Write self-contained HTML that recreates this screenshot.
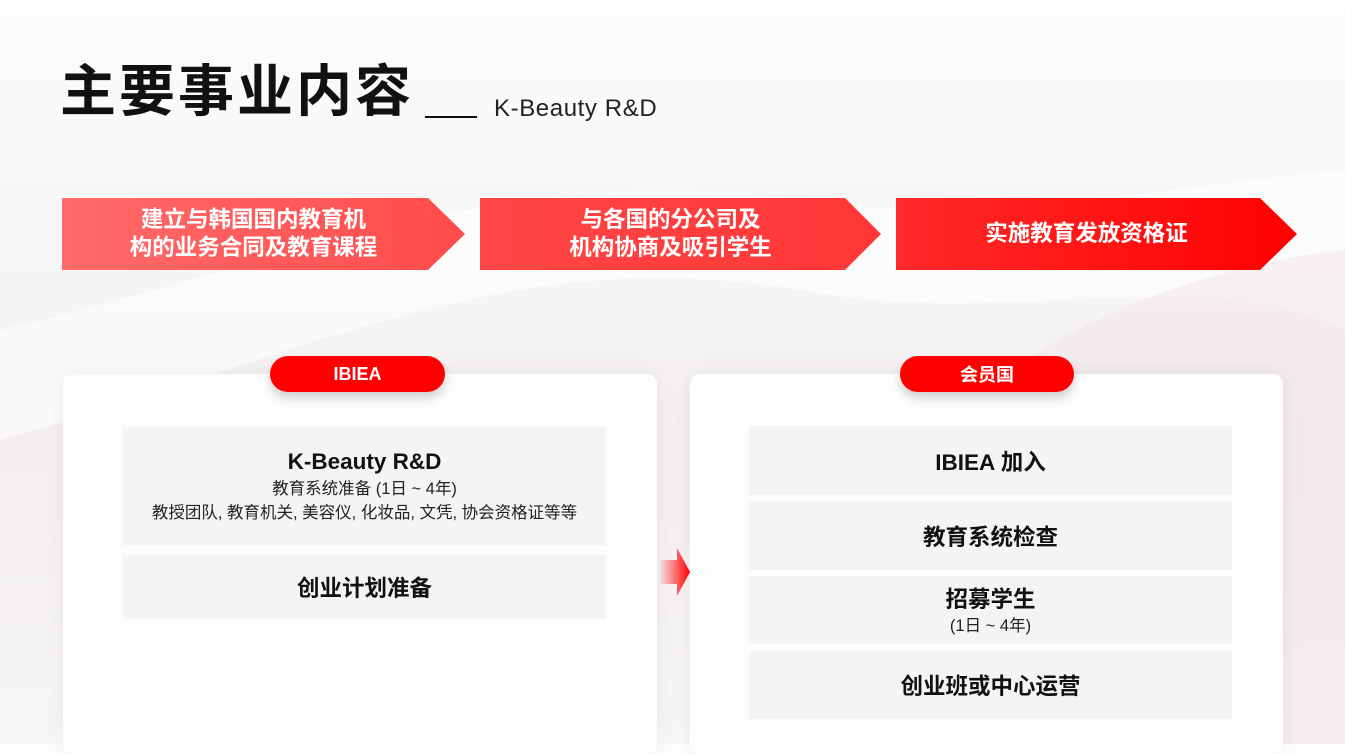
<!DOCTYPE html>
<html><head><meta charset="utf-8"><style>
*{margin:0;padding:0;box-sizing:border-box}
body{width:1345px;height:744px;overflow:hidden;position:relative;font-family:"Liberation Sans","Noto Sans CJK SC",sans-serif;background:linear-gradient(180deg,#fdfdfd 0%,#f6f4f5 40%,#f3eef0 60%,#f8f6f7 100%)}
.abs{position:absolute}
.title{left:60px;top:47px;font-size:56px;font-weight:bold;color:#111;letter-spacing:3px;white-space:nowrap}
.line{left:425px;top:116px;width:52px;height:2px;background:#111}
.sub{left:494px;top:95px;font-size:24px;color:#222;letter-spacing:0.6px;white-space:nowrap}
.arr{top:198px;height:72px;color:#fff;font-weight:bold;font-size:22.5px;line-height:28px;display:flex;align-items:center;justify-content:center;text-align:center;white-space:nowrap}
.card{background:#fdfdfd;border-radius:10px;box-shadow:0 0 20px rgba(0,0,0,0.06)}
.pill{height:36px;border-radius:18px;background:#ff0000;color:#fff;font-weight:bold;font-size:18px;display:flex;align-items:center;justify-content:center;box-shadow:0 6px 10px rgba(0,0,0,0.18)}
.box{background:#f4f4f4;display:flex;flex-direction:column;align-items:center;justify-content:center;color:#111;text-align:center;white-space:nowrap}
.big{font-size:22.5px;font-weight:bold}
.sm{font-size:16.5px;color:#222;line-height:24px}
</style></head><body>
<svg class="abs" style="left:0;top:0" width="1345" height="744">
<path d="M0 330 C300 260 500 160 800 200 C1000 230 1200 180 1345 170 L1345 330 C1200 260 1000 330 800 290 C500 240 300 360 0 440Z" fill="#ffffff" opacity="0.6"/>
<path d="M1000 380 C1100 300 1250 260 1345 250 L1345 744 L1000 744Z" fill="#f2e3e7" opacity="0.5"/>
</svg>
<div class="abs title">主要事业内容</div>
<div class="abs line"></div>
<div class="abs sub">K-Beauty R&amp;D</div>

<div class="abs arr" style="left:62px;width:403px;background:linear-gradient(90deg,#ff6a6a,#ff4c4c);clip-path:polygon(0 0,366px 0,100% 50%,366px 100%,0 100%)"><span style="margin-right:20px">建立与韩国国内教育机<br>构的业务合同及教育课程</span></div>
<div class="abs arr" style="left:480px;width:401px;background:linear-gradient(90deg,#ff4646,#ff3636);clip-path:polygon(0 0,365px 0,100% 50%,365px 100%,0 100%)"><span style="margin-right:20px">与各国的分公司及<br>机构协商及吸引学生</span></div>
<div class="abs arr" style="left:896px;width:401px;background:linear-gradient(90deg,#ff2a2a,#ff0000);clip-path:polygon(0 0,364px 0,100% 50%,364px 100%,0 100%)"><span style="margin-right:20px">实施教育发放资格证</span></div>

<div class="abs card" style="left:63px;top:374px;width:594px;height:380px"></div>
<div class="abs card" style="left:690px;top:374px;width:593px;height:380px"></div>
<div class="abs pill" style="left:270px;top:356px;width:175px">IBIEA</div>
<div class="abs pill" style="left:900px;top:356px;width:174px">会员国</div>

<div class="abs box" style="left:123px;top:427px;width:483px;height:118px"><div class="big" style="margin-top:2px">K-Beauty R&amp;D</div><div class="sm" style="margin-top:2px">教育系统准备 (1日 ~ 4年)</div><div class="sm">教授团队, 教育机关, 美容仪, 化妆品, 文凭, 协会资格证等等</div></div>
<div class="abs box" style="left:123px;top:555px;width:483px;height:64px"><div class="big">创业计划准备</div></div>

<div class="abs" style="left:660px;top:548px;width:30px;height:48px;background:linear-gradient(90deg,rgba(255,0,0,0.05),#ff0000);clip-path:polygon(0 12px,17px 12px,17px 0,100% 50%,17px 100%,17px 36px,0 36px)"></div>

<div class="abs box" style="left:749px;top:426px;width:483px;height:69px"><div class="big">IBIEA 加入</div></div>
<div class="abs box" style="left:749px;top:501px;width:483px;height:69px"><div class="big">教育系统检查</div></div>
<div class="abs box" style="left:749px;top:576px;width:483px;height:68px"><div class="big">招募学生</div><div class="sm">(1日 ~ 4年)</div></div>
<div class="abs box" style="left:749px;top:651px;width:483px;height:68px"><div class="big">创业班或中心运营</div></div>
</body></html>
